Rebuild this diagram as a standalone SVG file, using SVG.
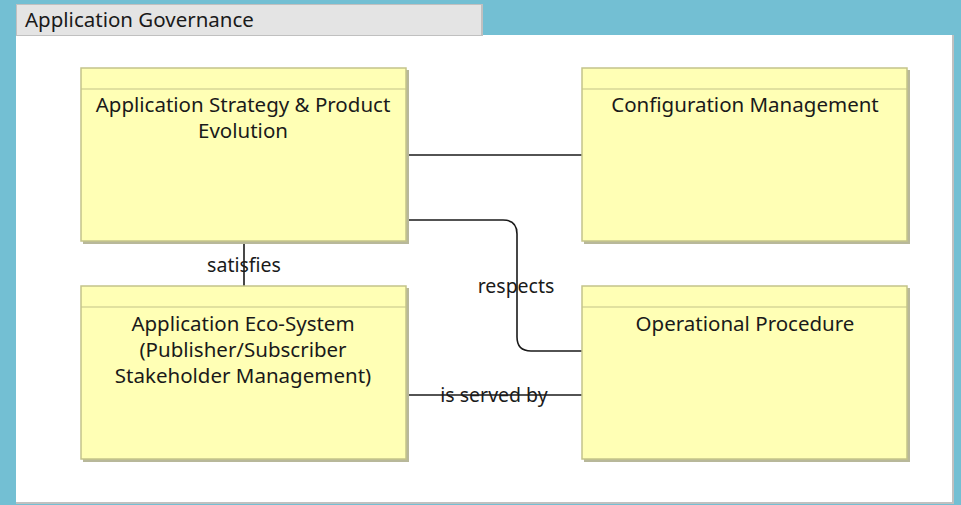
<svg xmlns="http://www.w3.org/2000/svg" width="961" height="505" viewBox="0 0 961 505">
<style>
text{font-family:"Noto Sans","Open Sans","Liberation Sans",sans-serif;fill:#1a1a1a;}
.nt{font-size:20.5px;text-anchor:middle;}
.lbl{font-size:19.5px;text-anchor:middle;}
.box{fill:#ffffb5;stroke:#c4c48a;stroke-width:1.5;}
.sh{fill:#b8b89a;}
.hd{stroke:#c4c48a;stroke-width:1.2;}
.cn{fill:none;stroke:#1a1a1a;stroke-width:1.6;}
</style>
<rect x="0" y="0" width="961" height="505" fill="#73bfd3"/>
<g id="group-governance">
<rect x="16" y="35" width="938" height="469" fill="#c0c0c0"/>
<rect x="16" y="35" width="936" height="467" fill="#ffffff"/>
<rect x="16" y="4" width="467" height="32" fill="#c0c0c0"/>
<rect x="17" y="5" width="464" height="30" fill="#e4e4e4"/>
<text x="25" y="27" style="font-size:20.5px">Application Governance</text>
</g>
<g id="connectors">
<path class="cn" d="M406 155 H582"/>
<path class="cn" d="M406 220 H503 Q517 220 517 234 V337 Q517 351 531 351 H582"/>
<path class="cn" d="M244 242 V286"/>
<path class="cn" d="M406 395 H582"/>
<text class="lbl" x="244" y="272">satisfies</text>
<text class="lbl" x="516" y="293">respects</text>
<text class="lbl" x="494" y="402">is served by</text>
</g>
<g id="node-strategy">
<rect class="sh" x="83" y="70" width="326" height="174"/>
<rect class="box" x="81" y="68" width="325" height="173"/>
<line class="hd" x1="81" y1="89" x2="406" y2="89"/>
<text class="nt" x="243" y="112">Application Strategy &amp; Product</text>
<text class="nt" x="243" y="138">Evolution</text>
</g>
<g id="node-config">
<rect class="sh" x="584" y="70" width="326" height="174"/>
<rect class="box" x="582" y="68" width="325" height="173"/>
<line class="hd" x1="582" y1="89" x2="907" y2="89"/>
<text class="nt" x="745" y="112">Configuration Management</text>
</g>
<g id="node-ecosystem">
<rect class="sh" x="83" y="288" width="326" height="174"/>
<rect class="box" x="81" y="286" width="325" height="173"/>
<line class="hd" x1="81" y1="307" x2="406" y2="307"/>
<text class="nt" x="243" y="331">Application Eco-System</text>
<text class="nt" x="243" y="357">(Publisher/Subscriber</text>
<text class="nt" x="243" y="383">Stakeholder Management)</text>
</g>
<g id="node-operational">
<rect class="sh" x="584" y="288" width="326" height="174"/>
<rect class="box" x="582" y="286" width="325" height="173"/>
<line class="hd" x1="582" y1="307" x2="907" y2="307"/>
<text class="nt" x="745" y="331">Operational Procedure</text>
</g>
</svg>
